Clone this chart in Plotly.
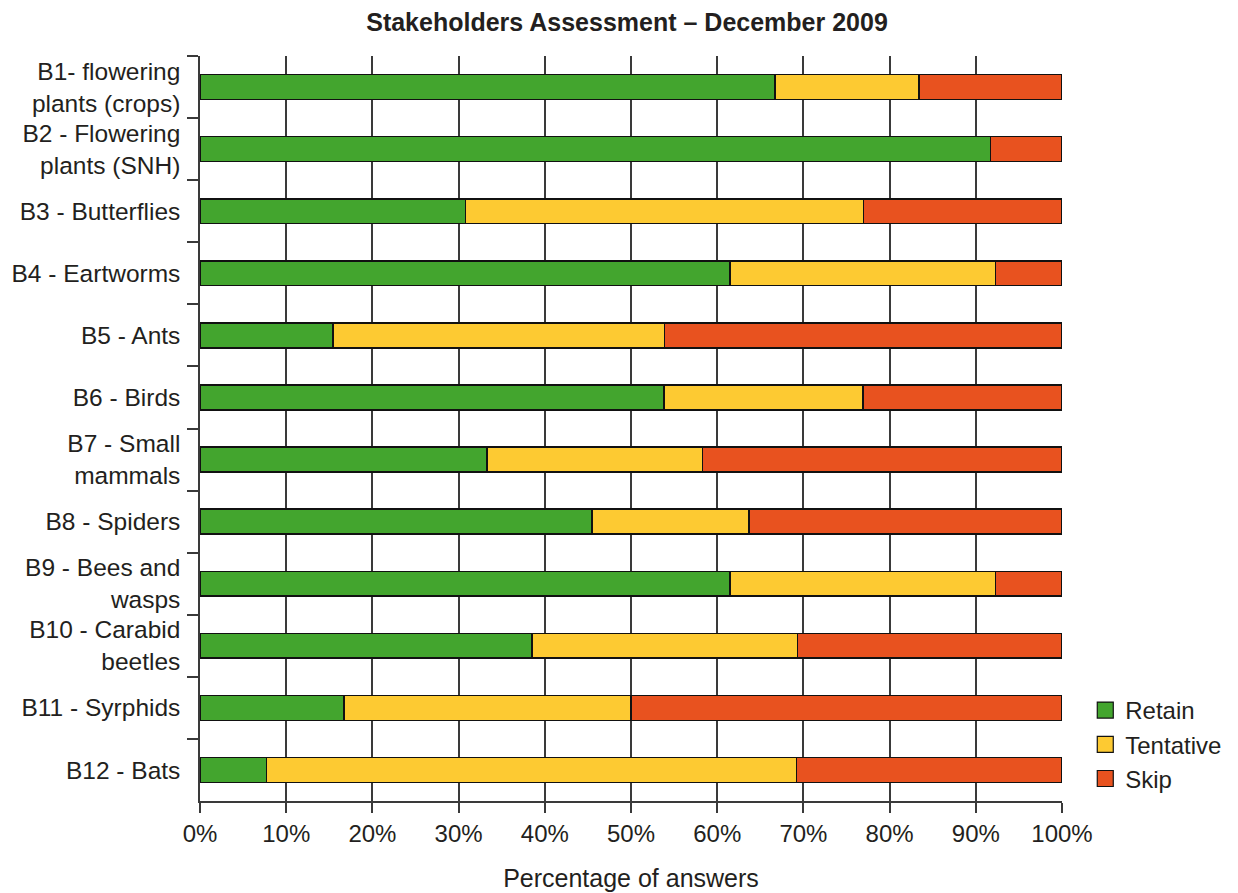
import plotly.graph_objects as go

categories = [
    "B1- flowering<br>plants (crops)",
    "B2 - Flowering<br>plants (SNH)",
    "B3 - Butterflies",
    "B4 - Eartworms",
    "B5 - Ants",
    "B6 - Birds",
    "B7 - Small<br>mammals",
    "B8 - Spiders",
    "B9 - Bees and<br>wasps",
    "B10 - Carabid<br>beetles",
    "B11 - Syrphids",
    "B12 - Bats",
]
retain =    [66.7, 91.7, 30.8, 61.5, 15.4, 53.8, 33.3, 45.5, 61.5, 38.5, 16.7, 7.7]
tentative = [16.7, 0.0, 46.2, 30.8, 38.5, 23.1, 25.0, 18.2, 30.8, 30.8, 33.3, 61.5]
skip =      [16.6, 8.3, 23.0, 7.7, 46.1, 23.1, 41.7, 36.3, 7.7, 30.7, 50.0, 30.8]

series = [("Retain", retain, "#43a52e"),
          ("Tentative", tentative, "#fdca32"),
          ("Skip", skip, "#e8521f")]

FONT = "Liberation Sans, Arial, sans-serif"
TXT = "#231f20"
AX = "#3a3a3a"

fig = go.Figure()
for name, vals, col in series:
    fig.add_trace(go.Bar(
        y=categories, x=vals, orientation="h", name=name,
        marker=dict(color=col, line=dict(color="#111", width=1.5)),
        width=0.4, showlegend=False,
    ))
for name, vals, col in series:
    fig.add_trace(go.Scatter(
        x=[None], y=[None], mode="markers", name=name,
        marker=dict(symbol="square", size=20, color=col,
                    line=dict(color="#111", width=1.2)),
    ))

fig.update_layout(
    width=1238, height=893,
    barmode="stack",
    plot_bgcolor="white", paper_bgcolor="white",
    margin=dict(l=192, r=184, t=48, b=100),
    font=dict(family=FONT, color=TXT, size=24),
    title=dict(text="<b>Stakeholders Assessment – December 2009</b>",
               x=0.5, xanchor="center", y=0.984, yanchor="middle",
               font=dict(size=25, family=FONT, color=TXT)),
    legend=dict(x=1.027, xanchor="left", y=0.0, yanchor="bottom",
                font=dict(size=24), itemwidth=30, tracegroupgap=0,
                traceorder="normal", bgcolor="rgba(0,0,0,0)"),
)
fig.update_xaxes(
    range=[0, 100], tickvals=list(range(0, 101, 10)),
    ticktext=[f"{v}%" for v in range(0, 101, 10)],
    showgrid=True, gridcolor=AX, gridwidth=1.5,
    showline=True, linecolor=AX, linewidth=1.5,
    ticks="outside", ticklen=10, tickcolor=AX, tickwidth=1.5,
    zeroline=False,
    title=dict(text="Percentage of answers", font=dict(size=25), standoff=24),
    tickfont=dict(size=24),
)
fig.update_yaxes(
    type="category", autorange="reversed", automargin=False,
    tickson="boundaries", ticks="outside", ticklen=11,
    tickcolor=AX, tickwidth=1.5,
    showline=True, linecolor=AX, linewidth=1.5,
    showgrid=False, tickfont=dict(size=24.5),
    ticklabelstandoff=13,
)

fig.write_html("out.html")
